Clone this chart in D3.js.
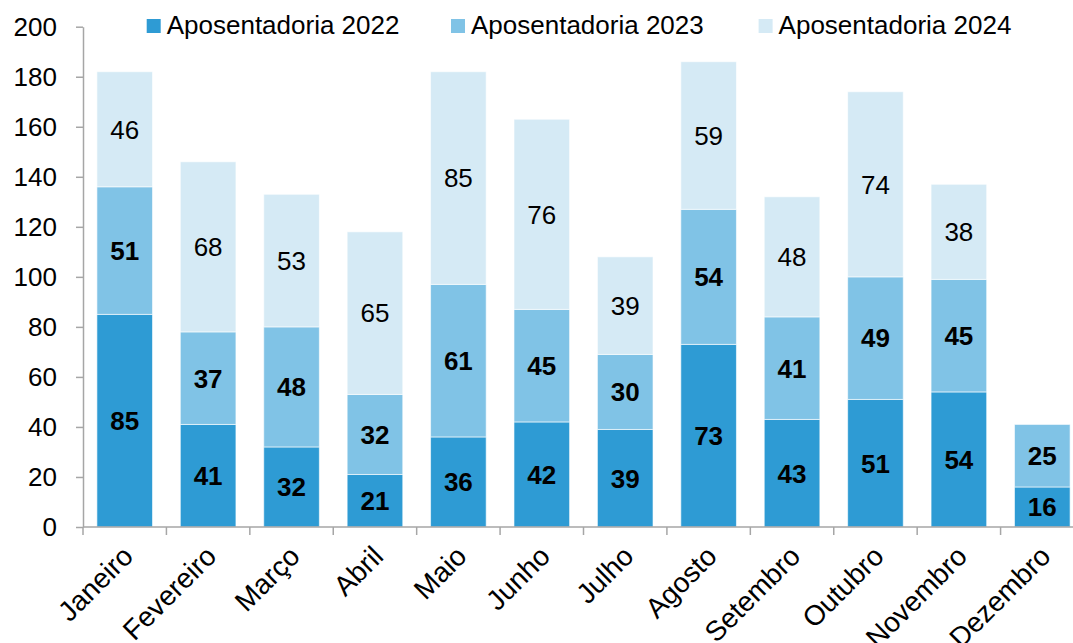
<!DOCTYPE html>
<html>
<head>
<meta charset="utf-8">
<script src="https://cdn.jsdelivr.net/npm/d3@7"></script>
<style>
  body { margin: 0; background: #fff; }
  text { font-family: "Liberation Sans", Arial, sans-serif; fill: #000; }
  .axis path, .axis line { stroke: #a6a6a6; stroke-width: 1.5; }
</style>
</head>
<body>
<div id="chart"></div>
<script>
var months = ["Janeiro", "Fevereiro", "Março", "Abril", "Maio", "Junho",
              "Julho", "Agosto", "Setembro", "Outubro", "Novembro", "Dezembro"];
var series = ["Aposentadoria 2022", "Aposentadoria 2023", "Aposentadoria 2024"];
var ap2022 = [85, 41, 32, 21, 36, 42, 39, 73, 43, 51, 54, 16];
var ap2023 = [51, 37, 48, 32, 61, 45, 30, 54, 41, 49, 45, 25];
var ap2024 = [46, 68, 53, 65, 85, 76, 39, 59, 48, 74, 38, 0];
var yTicks = [0, 20, 40, 60, 80, 100, 120, 140, 160, 180, 200];

var width = 1073,
    height = 643;

var colors = ["#2e9bd4", "#80c3e6", "#d5eaf5"];

var data = months.map(function(m, i) {
  return {month: m, s0: ap2022[i], s1: ap2023[i], s2: ap2024[i]};
});

var stack = d3.stack().keys(["s0", "s1", "s2"]);
var layers = stack(data);

var x = d3.scaleBand()
    .domain(months)
    .range([83, 1084])
    .paddingInner(1 / 3)
    .paddingOuter(1 / 6);

var y = d3.scaleLinear()
    .domain([0, 200])
    .range([527, 26.7]);

var svg = d3.select("#chart").append("svg")
    .attr("width", width)
    .attr("height", height);

// bars
var layer = svg.selectAll(".layer")
    .data(layers)
  .enter().append("g")
    .attr("class", "layer")
    .attr("fill", function(d, i) { return colors[i]; });

layer.selectAll("rect")
    .data(function(d) { return d.filter(function(p) { return p[1] > p[0]; }); })
  .enter().append("rect")
    .attr("x", function(d) { return x(d.data.month); })
    .attr("y", function(d) { return y(d[1]); })
    .attr("width", x.bandwidth())
    .attr("height", function(d) { return y(d[0]) - y(d[1]); })
    .attr("stroke", "rgba(255,255,255,0.6)")
    .attr("stroke-width", 1);

// value labels
layer.each(function(l, i) {
  d3.select(this).selectAll("text")
      .data(l.filter(function(p) { return p[1] > p[0]; }))
    .enter().append("text")
      .attr("x", function(d) { return x(d.data.month) + x.bandwidth() / 2; })
      .attr("y", function(d) { return y((d[0] + d[1]) / 2); })
      .attr("dy", "0.36em")
      .attr("text-anchor", "middle")
      .attr("font-size", 26)
      .attr("font-weight", i < 2 ? "bold" : "normal")
      .text(function(d) { return d[1] - d[0]; });
});

// y axis
var yAxis = d3.axisLeft(y)
    .tickValues(yTicks)
    .tickSize(7)
    .tickSizeOuter(0)
    .tickPadding(19);

svg.append("g")
    .attr("class", "axis")
    .attr("transform", "translate(83,0)")
    .call(yAxis)
    .call(function(g) {
      g.selectAll("text").attr("font-size", 26).attr("font-family", null).attr("fill", "#000");
    });

// x axis: line + ticks at band boundaries
var step = x.step();
var xg = svg.append("g").attr("class", "axis");
xg.append("line")
    .attr("x1", 83).attr("x2", width)
    .attr("y1", y(0)).attr("y2", y(0));

xg.selectAll(".bt")
    .data(months)
  .enter().append("line")
    .attr("class", "bt")
    .attr("x1", function(d) { return x(d) - (step - x.bandwidth()) / 2; })
    .attr("x2", function(d) { return x(d) - (step - x.bandwidth()) / 2; })
    .attr("y1", y(0))
    .attr("y2", y(0) + 8);

svg.selectAll(".xlabel")
    .data(months)
  .enter().append("text")
    .attr("class", "xlabel")
    .attr("text-anchor", "end")
    .attr("font-size", 28)
    .attr("transform", function(d) {
      return "translate(" + (x(d) + x.bandwidth() / 2 + 10) + "," + 558 + ") rotate(-45)";
    })
    .text(function(d) { return d; });

// legend
var legendX = [146.7, 451, 758.6];
var legend = svg.selectAll(".legend")
    .data(series)
  .enter().append("g")
    .attr("class", "legend")
    .attr("transform", function(d, i) { return "translate(" + legendX[i] + ",19)"; });

legend.append("rect")
    .attr("width", 14)
    .attr("height", 14)
    .attr("fill", function(d, i) { return colors[i]; });

legend.append("text")
    .attr("x", 20)
    .attr("y", 15)
    .attr("font-size", 26)
    .text(function(d) { return d; });
</script>
</body>
</html>
